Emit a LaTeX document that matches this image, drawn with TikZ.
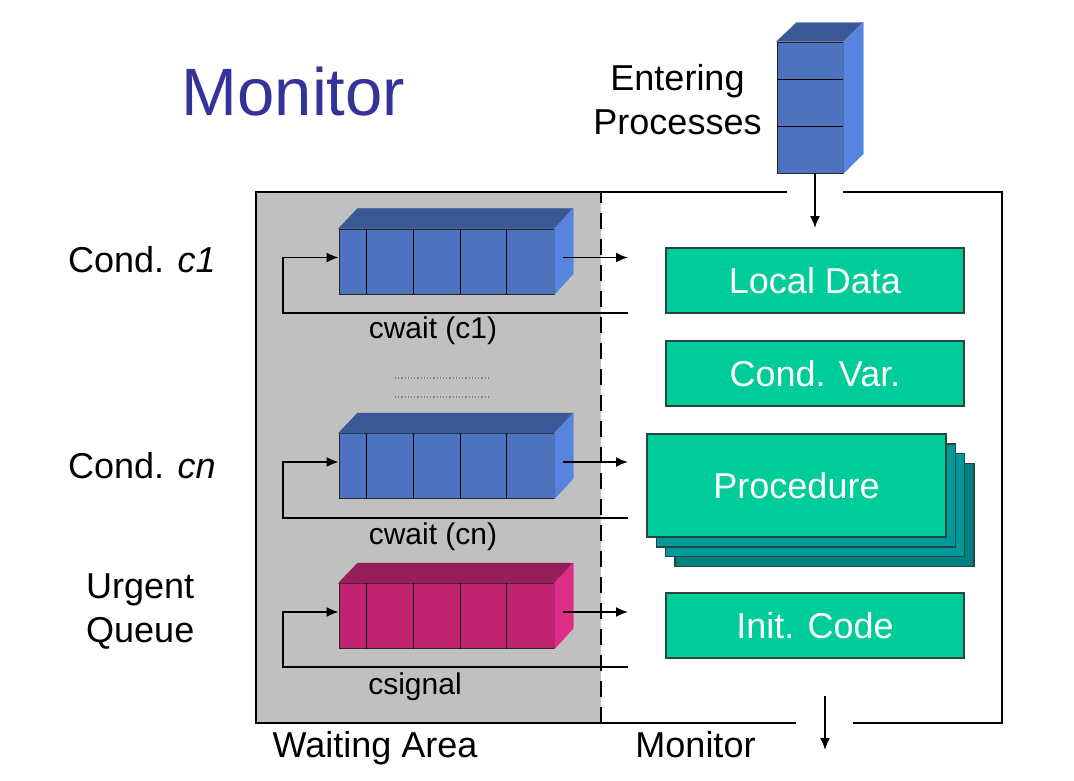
\documentclass[tikz,border=0pt]{standalone}
\usepackage{fontspec}
\setmainfont{Liberation Sans}
\usetikzlibrary{positioning, arrows.meta}
\definecolor{titleblue}{RGB}{51,51,153}
\definecolor{waitgray}{RGB}{192,192,192}
\definecolor{qblue}{RGB}{77,114,190}
\definecolor{qbluetop}{RGB}{59,88,150}
\definecolor{qblueside}{RGB}{87,132,222}
\definecolor{qpink}{RGB}{192,36,112}
\definecolor{qpinktop}{RGB}{150,30,90}
\definecolor{qpinkside}{RGB}{222,46,136}
\definecolor{codegreen}{RGB}{0,204,153}
\definecolor{codeteal}{RGB}{0,153,153}
\definecolor{codedark}{RGB}{0,128,128}
\definecolor{boxedge}{RGB}{40,70,65}
\newcommand{\flowarrow}{-{Latex[length=12pt,width=10pt]}}
\newcommand{\queuebox}[5]{%
  \node[queuefront, fill=#3] (#1) at (#2) {};
  \filldraw[fill=#4, draw=#4] (#1.north west) -- ++(19,-20) -- ++(215,0) -- (#1.north east) -- cycle;
  \filldraw[fill=#5, draw=#5] (#1.north east) -- ++(19,-20) -- ++(0,65) -- (#1.south east) -- cycle;
  \foreach \d in {28,75,122,168}
    \draw[line width=0.9pt] ([xshift=\d pt]#1.north west) -- ([xshift=\d pt]#1.south west);
}

\begin{document}
\begin{tikzpicture}[x=1pt, y=-1pt,
    queuefront/.style={rectangle, minimum width=215pt, minimum height=65pt, inner sep=0pt, draw=black!85, line width=0.9pt},
    codebox/.style={rectangle, fill=codegreen, draw=boxedge, line width=1.3pt, minimum width=298pt, minimum height=65pt, text=white, font=\fontsize{36}{40}\selectfont},
    sidelabel/.style={anchor=base west, inner sep=0pt, font=\fontsize{36}{44}\selectfont},
    smalllabel/.style={anchor=base, inner sep=0pt, font=\fontsize{30}{34}\selectfont},
    flow/.style={line width=1.8pt},
    frame/.style={line width=2pt}]
    \useasboundingbox (0,0) rectangle (1074,781);

    % waiting area and monitor frame
    \fill[waitgray] (256,192) rectangle (601,723);
    \draw[frame] (787,192) -- (256,192) -- (256,723) -- (796,723);
    \draw[frame] (843,192) -- (1002,192) -- (1002,723) -- (853,723);
    \draw[frame, dash pattern=on 16pt off 10pt] (601,723) -- (601,192);

    \node[anchor=base, inner sep=0pt, text=titleblue, font=\fontsize{67}{70}\selectfont] (title) at (293.5,116) {Monitor};

    % entering processes
    \node[rectangle, minimum width=66pt, minimum height=131pt, inner sep=0pt, fill=qblue, draw=black!85, line width=0.9pt] (entq) at (810,107.5) {};
    \filldraw[fill=qbluetop, draw=qbluetop] (entq.north west) -- ++(20,-19) -- ++(66,0) -- (entq.north east) -- cycle;
    \filldraw[fill=qblueside, draw=qblueside] (entq.north east) -- ++(20,-19) -- ++(0,131) -- (entq.south east) -- cycle;
    \draw[line width=0.9pt] ([yshift=-38pt]entq.north west) -- ([yshift=-38pt]entq.north east);
    \draw[line width=0.9pt] ([yshift=-85pt]entq.north west) -- ([yshift=-85pt]entq.north east);
    \node[align=center, inner sep=0pt, font=\fontsize{36}{44}\selectfont] (entlabel) at (677.5,100) {Entering\\Processes};
    \coordinate (entin) at (815,228);
    \draw[flow, \flowarrow] (entq.south -| entin) -- (entin);

    % condition queues
    \queuebox{qc1}{446.5,261.5}{qblue}{qbluetop}{qblueside}
    \queuebox{qcn}{446.5,466}{qblue}{qbluetop}{qblueside}
    \queuebox{qurg}{446.5,616}{qpink}{qpinktop}{qpinkside}

    \coordinate (c1out) at (628,257.5);
    \coordinate (c1ret) at (628,313);
    \coordinate (cnout) at (628,462);
    \coordinate (cnret) at (628,518);
    \coordinate (urgout) at (628,612);
    \coordinate (urgret) at (628,667);

    \draw[flow, \flowarrow] ([yshift=4pt, xshift=9pt]qc1.east) -- (c1out);
    \draw[flow, \flowarrow] (c1ret) -- ++(-345,0) |- ([yshift=4pt]qc1.west);
    \draw[flow, \flowarrow] ([yshift=4pt, xshift=9pt]qcn.east) -- (cnout);
    \draw[flow, \flowarrow] (cnret) -- ++(-345,0) |- ([yshift=4pt]qcn.west);
    \draw[flow, \flowarrow] ([yshift=4pt, xshift=9pt]qurg.east) -- (urgout);
    \draw[flow, \flowarrow] (urgret) -- ++(-345,0) |- ([yshift=4pt]qurg.west);

    \node[smalllabel] (c1wait) at (433,338) {cwait (c1)};
    \node[smalllabel] (cnwait) at (433,544) {cwait (cn)};
    \node[smalllabel] (urgsig) at (415,694) {csignal};

    \draw[gray, line width=1.2pt, dotted] (395,378) -- (488,378);
    \draw[gray, line width=1.2pt, dotted] (395,397) -- (488,397);

    \node[sidelabel] (c1label) at (68,272) {Cond. \textit{c1}};
    \node[sidelabel] (cnlabel) at (68,478) {Cond. \textit{cn}};
    \node[sidelabel, align=left] (urglabel) at (86,642) {Urgent\\Queue};

    % monitor contents
    \node[codebox] (localdata) at (815,280.5) {Local Data};
    \node[codebox] (condvar) at (815,373.5) {Cond. Var.};
    \foreach \s/\c in {3/codedark, 2/codeteal, 1/codeteal}
      \node[codebox, minimum width=299pt, minimum height=103pt, fill=\c] (proc\s) at ({796.5+9.3*\s},{485.5+9.9*\s}) {};
    \node[codebox, minimum width=299pt, minimum height=103pt] (procedure) at (796.5,485.5) {Procedure};
    \node[codebox] (initcode) at (815,625.5) {Init. Code};

    \coordinate (exitin) at (825,696);
    \coordinate (exitout) at (825,750);
    \draw[flow, \flowarrow] (exitin) -- (exitout);

    \node[anchor=base, inner sep=0pt, font=\fontsize{36}{40}\selectfont] (waitlabel) at (375,757) {Waiting Area};
    \node[anchor=base, inner sep=0pt, font=\fontsize{36}{40}\selectfont] (monlabel) at (695.5,757) {Monitor};
\end{tikzpicture}
\end{document}
